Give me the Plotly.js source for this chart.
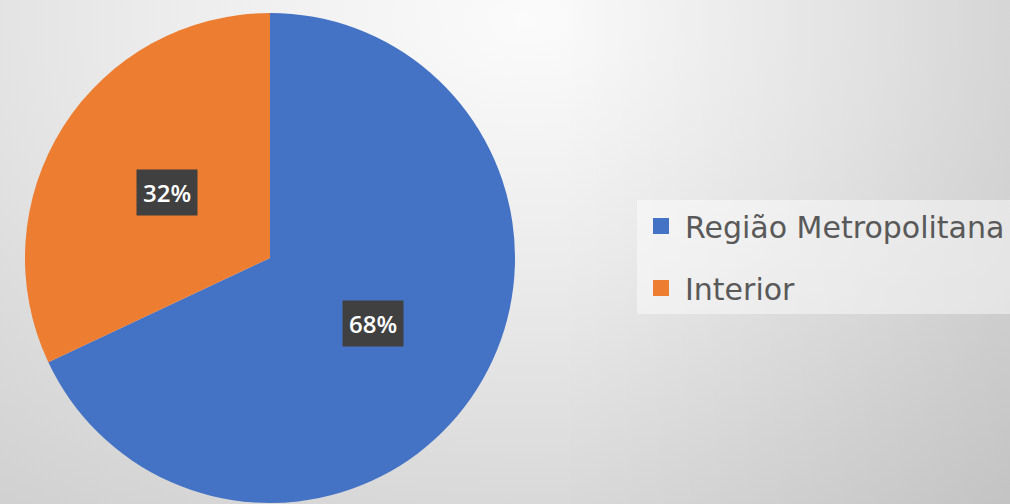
<!DOCTYPE html>
<html>
<head>
<meta charset="utf-8">
<script src="https://cdn.plot.ly/plotly-3.0.1.min.js"></script>
<style>
  html, body { margin: 0; padding: 0; overflow: hidden; }
  #chart {
    width: 1010px; height: 504px;
    background:
      linear-gradient(to right, rgba(0,0,0,0) 0%, rgba(0,0,0,0) 55%, rgba(0,0,0,0.07) 100%),
      radial-gradient(ellipse 90% 120% at 52% 4%, #fbfbfb 0%, #ececec 40%, #dbdbdb 75%, #d0d0d0 100%);
  }
</style>
</head>
<body>
<div id="chart"></div>
<script>
const categories = ["Região Metropolitana", "Interior"];
const values = [68, 32];
const colors = ["#4472C4", "#ED7D31"];

const W = 1010, H = 504;
const cx = 270, cy = 258, R = 245;

const pieTrace = {
  type: "pie",
  labels: categories,
  values: values,
  sort: false,
  direction: "clockwise",
  rotation: 0,
  marker: { colors: colors, line: { width: 0 } },
  textinfo: "none",
  hoverinfo: "label+percent",
  showlegend: false,
  domain: { x: [(cx - R) / W, (cx + R) / W], y: [(H - cy - R) / H, (H - cy + R) / H] }
};

// legend entries built from the same category/colour arrays
const legendTraces = categories.map((c, i) => ({
  type: "scatter", mode: "markers", x: [null], y: [null],
  name: c, legendgroup: "g" + i,
  marker: { symbol: "square", size: 20, color: colors[i] },
  hoverinfo: "skip"
}));

// percentage labels placed at the middle angle of each slice
const total = values.reduce((a, b) => a + b, 0);
let acc = 0;
const annotations = values.map((v) => {
  const mid = (acc + v / 2) / total * 2 * Math.PI;
  acc += v;
  const px = cx + 0.5 * R * Math.sin(mid);
  const py = cy - 0.5 * R * Math.cos(mid);
  return {
    xref: "paper", yref: "paper",
    x: px / W, y: (H - py) / H,
    xanchor: "center", yanchor: "middle",
    text: Math.round(v / total * 100) + "%",
    showarrow: false,
    font: { family: "Open Sans, DejaVu Sans, sans-serif", size: 24, color: "#ffffff", weight: 600 },
    bgcolor: "#404040",
    borderpad: 6
  };
});

const layout = {
  width: W, height: H,
  margin: { l: 0, r: 0, t: 0, b: 0 },
  paper_bgcolor: "rgba(0,0,0,0)",
  plot_bgcolor: "rgba(0,0,0,0)",
  xaxis: { visible: false },
  yaxis: { visible: false },
  showlegend: true,
  legend: {
    x: 637 / W, xanchor: "left",
    y: (H - 200) / H, yanchor: "top",
    bgcolor: "rgba(255,255,255,0.45)",
    traceorder: "grouped",
    tracegroupgap: 20,
    itemwidth: 38,
    font: { family: "DejaVu Sans, sans-serif", size: 30, color: "#595959" }
  },
  annotations: annotations
};

Plotly.newPlot("chart", [pieTrace, ...legendTraces], layout, { displayModeBar: false, staticPlot: true });
</script>
</body>
</html>
